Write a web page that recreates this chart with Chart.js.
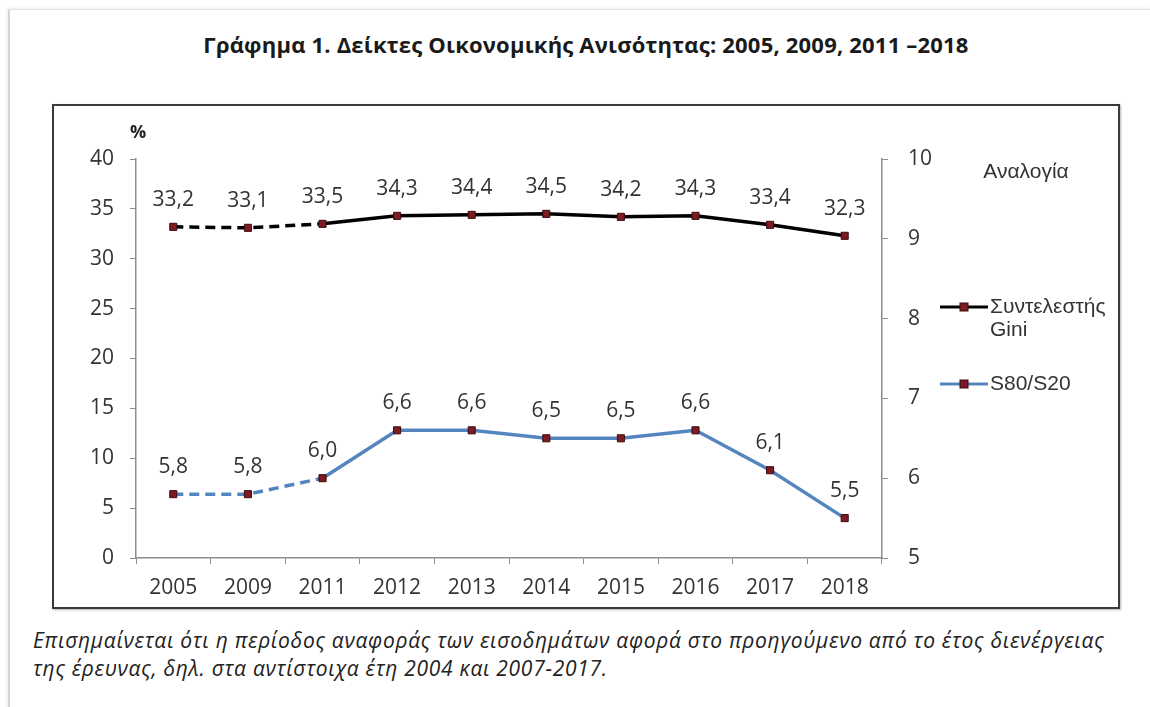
<!DOCTYPE html>
<html>
<head>
<meta charset="utf-8">
<script src="https://cdn.jsdelivr.net/npm/chart.js@4"></script>
<style>
  html, body { margin: 0; padding: 0; background: #fff; }
  body { width: 1150px; height: 707px; position: relative; overflow: hidden; font-family: "Open Sans", sans-serif; }
  .page { position: absolute; left: 8px; top: 9px; width: 1140px; height: 720px; border-left: 2px solid #d6d6d6; border-top: 1px solid #e4e4e4; box-shadow: -1px -1px 3px rgba(0,0,0,0.08); }
  .title { position: absolute; left: 0; width: 1172px; top: 29px; text-align: center; font-weight: bold; font-size: 22px; letter-spacing: 0.2px; color: #1a1a1a; }
  .box { position: absolute; left: 52px; top: 104px; width: 1064px; height: 501px; border: 2px solid #3a3a3a; box-shadow: 1px 1px 2px rgba(0,0,0,0.3); }
  .note { position: absolute; left: 33px; top: 626px; font-style: italic; font-size: 21px; letter-spacing: 0.7px; line-height: 28px; color: #222; white-space: nowrap; }
</style>
</head>
<body>
<div class="page"></div>
<div class="title">Γράφημα 1. Δείκτες Οικονομικής Ανισότητας: 2005, 2009, 2011 –2018</div>
<div class="box"><canvas id="chart" width="1064" height="501"></canvas></div>
<div class="note">Επισημαίνεται ότι η περίοδος αναφοράς των εισοδημάτων αφορά στο προηγούμενο από το έτος διενέργειας<br>της έρευνας, δηλ. στα αντίστοιχα έτη 2004 και 2007-2017.</div>
<script>
const years = ["2005", "2009", "2011", "2012", "2013", "2014", "2015", "2016", "2017", "2018"];
const gini = [33.2, 33.1, 33.5, 34.3, 34.4, 34.5, 34.2, 34.3, 33.4, 32.3];
const s80s20 = [5.8, 5.8, 6.0, 6.6, 6.6, 6.5, 6.5, 6.6, 6.1, 5.5];
const seriesNames = ["Συντελεστής Gini", "S80/S20"];
const dashedUntil = 2; // segments before 2011 are dashed

const markerFill = "#7d1a22";
const axisColor = "#8c8c8c";
const textColor = "#333333";

Chart.defaults.font.family = "'Open Sans', sans-serif";
Chart.defaults.color = textColor;

const dashSeg = { borderDash: (ctx) => (ctx.p1DataIndex <= dashedUntil ? [10, 6] : undefined) };

// value labels above each point
const valueLabels = {
  id: "valueLabels",
  afterDatasetsDraw(chart) {
    const c = chart.ctx;
    c.save();
    c.font = "21px 'Open Sans', sans-serif";
    c.fillStyle = textColor;
    c.textAlign = "center";
    c.textBaseline = "middle";
    chart.data.datasets.forEach((ds, i) => {
      chart.getDatasetMeta(i).data.forEach((pt, j) => {
        c.fillText(ds.data[j].toFixed(1).replace(".", ","), pt.x, pt.y - 27);
      });
    });
    c.restore();
  },
};

// axis captions and side legend
const extras = {
  id: "extras",
  afterDraw(chart) {
    const c = chart.ctx;
    const area = chart.chartArea;
    c.save();
    c.textBaseline = "middle";
    c.fillStyle = "#222";
    c.font = "bold 18px 'Open Sans', sans-serif";
    c.textAlign = "center";
    c.fillText("%", area.left + 2, area.top - 26);

    c.font = "21px 'Liberation Sans', Arial, sans-serif";
    c.fillStyle = "#333";
    c.fillText("Αναλογία", 972, 66);

    const items = [
      { ds: chart.data.datasets[0], y: 201, lines: ["Συντελεστής", "Gini"] },
      { ds: chart.data.datasets[1], y: 278, lines: ["S80/S20"] },
    ];
    c.textAlign = "left";
    items.forEach((it) => {
      c.strokeStyle = it.ds.borderColor;
      c.lineWidth = 3;
      c.beginPath();
      c.moveTo(886, it.y);
      c.lineTo(934, it.y);
      c.stroke();
      c.fillStyle = markerFill;
      c.strokeStyle = "#3a0a0e";
      c.lineWidth = 1;
      c.fillRect(906, it.y - 4, 8, 8);
      c.strokeRect(906, it.y - 4, 8, 8);
      c.fillStyle = "#333";
      it.lines.forEach((t, k) => c.fillText(t, 936, it.y + k * 23));
    });
    c.restore();
  },
};

new Chart(document.getElementById("chart"), {
  type: "line",
  data: {
    labels: years,
    datasets: [
      {
        label: seriesNames[0],
        data: gini,
        yAxisID: "y",
        borderColor: "#000000",
        borderWidth: 3.5,
        pointStyle: "rect",
        pointRadius: 5,
        pointBackgroundColor: markerFill,
        pointBorderColor: "#3a0a0e",
        pointBorderWidth: 1,
        segment: dashSeg,
      },
      {
        label: seriesNames[1],
        data: s80s20,
        yAxisID: "y1",
        borderColor: "#5585bf",
        borderWidth: 3.5,
        pointStyle: "rect",
        pointRadius: 5,
        pointBackgroundColor: markerFill,
        pointBorderColor: "#3a0a0e",
        pointBorderWidth: 1,
        segment: dashSeg,
      },
    ],
  },
  options: {
    responsive: false,
    animation: false,
    layout: { padding: { top: 53, right: 176, left: 0, bottom: 0 } },
    plugins: { legend: { display: false }, tooltip: { enabled: false } },
    scales: {
      x: {
        offset: true,
        grid: { offset: true, drawOnChartArea: false, tickLength: 6, color: axisColor },
        border: { color: axisColor, width: 1.5 },
        ticks: { font: { size: 21 }, padding: 11, color: textColor },
        afterFit(s) { s.height = 49; },
      },
      y: {
        position: "left",
        min: 0,
        max: 40,
        ticks: { stepSize: 5, font: { size: 21 }, padding: 16, color: textColor },
        grid: { drawOnChartArea: false, tickLength: 6, color: axisColor },
        border: { color: axisColor, width: 1.5 },
        afterFit(s) { s.width = 82; },
      },
      y1: {
        position: "right",
        min: 5,
        max: 10,
        ticks: { stepSize: 1, font: { size: 21 }, padding: 20, color: textColor },
        grid: { drawOnChartArea: false, tickLength: 6, color: axisColor },
        border: { color: axisColor, width: 1.5 },
        afterFit(s) { s.width = 60; },
      },
    },
  },
  plugins: [valueLabels, extras],
});
</script>
</body>
</html>
